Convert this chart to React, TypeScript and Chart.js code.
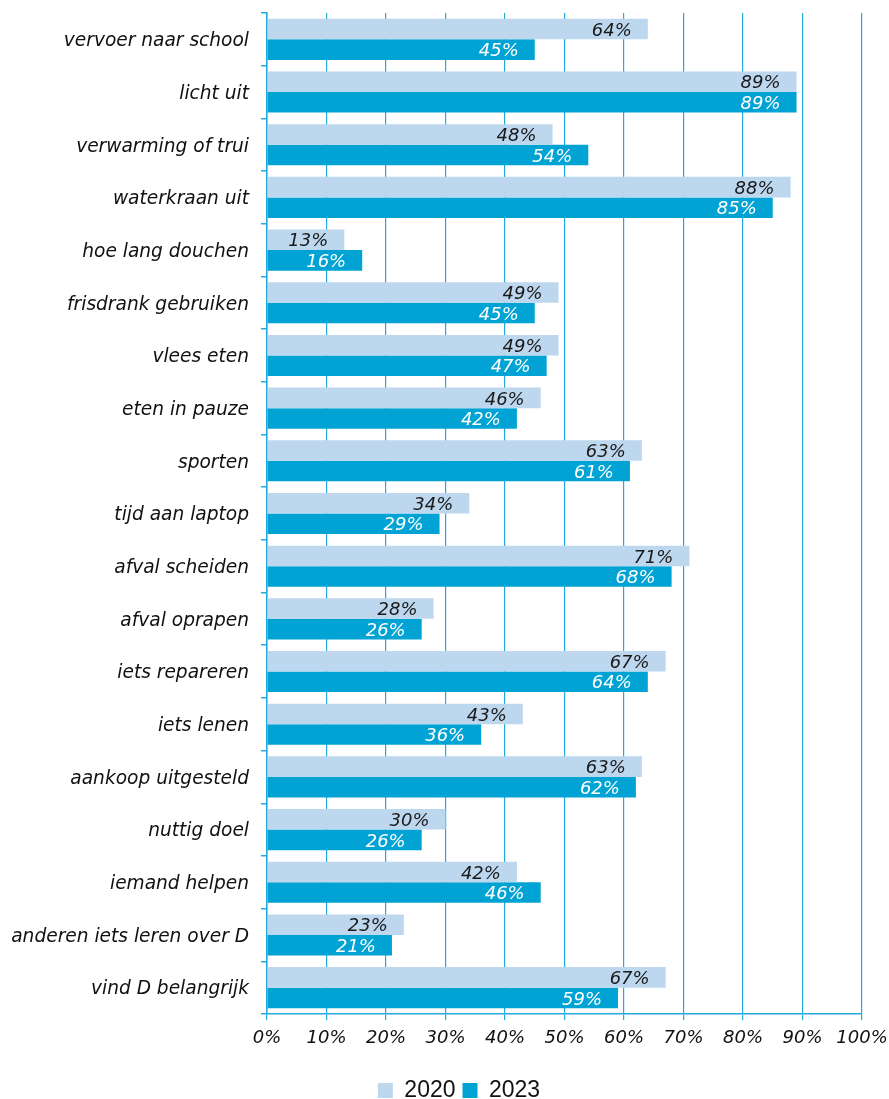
import React, { useEffect, useRef } from "react";
import { Chart, registerables } from "chart.js";

Chart.register(...registerables);

const categories = [
  "vervoer naar school",
  "licht uit",
  "verwarming of trui",
  "waterkraan uit",
  "hoe lang douchen",
  "frisdrank gebruiken",
  "vlees eten",
  "eten in pauze",
  "sporten",
  "tijd aan laptop",
  "afval scheiden",
  "afval oprapen",
  "iets repareren",
  "iets lenen",
  "aankoop uitgesteld",
  "nuttig doel",
  "iemand helpen",
  "anderen iets leren over D",
  "vind D belangrijk",
];

const values2020 = [64, 89, 48, 88, 13, 49, 49, 46, 63, 34, 71, 28, 67, 43, 63, 30, 42, 23, 67];
const values2023 = [45, 89, 54, 85, 16, 45, 47, 42, 61, 29, 68, 26, 64, 36, 62, 26, 46, 21, 59];

const seriesNames = ["2020", "2023"];
const seriesColors = ["#bdd7ee", "#00a3d3"];
const labelColors = ["#1a1a1a", "#ffffff"];

const xTicks = [0, 10, 20, 30, 40, 50, 60, 70, 80, 90, 100];

const AXIS_COLOR = "#22a9de";
const FONT = "'DejaVu Sans', Verdana, sans-serif";
const PLOT_TOP = 13;
const PLOT_BOTTOM = 1014;
const PLOT_LEFT = 267;
const BOTTOM_SHIFT = 13;
const LEGEND_SHIFT_X = 28;

const valueLabelPlugin = {
  id: "valueLabels",
  afterLayout(chart: any) {
    if (chart.legend) {
      chart.legend.left += LEGEND_SHIFT_X;
      chart.legend.right += LEGEND_SHIFT_X;
    }
  },
  afterDatasetsDraw(chart: any) {
    const ctx = chart.ctx;
    ctx.save();
    ctx.font = `italic 18px ${FONT}`;
    ctx.textAlign = "right";
    ctx.textBaseline = "middle";
    chart.data.datasets.forEach((ds: any, di: number) => {
      const meta = chart.getDatasetMeta(di);
      ctx.fillStyle = labelColors[di];
      meta.data.forEach((bar: any, i: number) => {
        ctx.fillText(`${ds.data[i]}%`, bar.x - 16, bar.y + 2);
      });
    });
    ctx.restore();
  },
};

export default function App() {
  const canvasRef = useRef<HTMLCanvasElement>(null);

  useEffect(() => {
    if (!canvasRef.current) return;
    const chart = new Chart(canvasRef.current, {
      type: "bar",
      data: {
        labels: categories,
        datasets: [
          {
            label: seriesNames[0],
            data: values2020,
            backgroundColor: seriesColors[0],
            borderWidth: 0,
            categoryPercentage: 0.78,
            barPercentage: 1.0,
          },
          {
            label: seriesNames[1],
            data: values2023,
            backgroundColor: seriesColors[1],
            borderWidth: 0,
            categoryPercentage: 0.78,
            barPercentage: 1.0,
          },
        ],
      },
      options: {
        indexAxis: "y",
        animation: false,
        responsive: false,
        maintainAspectRatio: false,
        layout: { padding: { top: PLOT_TOP, right: 27, left: 0, bottom: -BOTTOM_SHIFT } },
        plugins: {
          legend: {
            position: "bottom",
            labels: {
              boxWidth: 15,
              boxHeight: 15,
              padding: 7,
              color: "#111",
              font: { family: "'Liberation Sans', Arial, sans-serif", size: 23 },
            },
          },
          tooltip: { enabled: false },
        },
        scales: {
          x: {
            min: 0,
            max: 100,
            afterBuildTicks(scale: any) {
              scale.ticks = xTicks.map((v) => ({ value: v }));
            },
            afterFit(scale: any) {
              const lh = scale.chart.legend ? scale.chart.legend.height : 0;
              scale.height = scale.chart.height + BOTTOM_SHIFT - PLOT_BOTTOM - lh;
              scale.paddingLeft = 0;
              scale.paddingRight = 0;
            },
            ticks: {
              padding: 8,
              color: "#111",
              font: { family: FONT, size: 18, style: "italic" },
              callback: (v: any) => `${v}%`,
            },
            grid: {
              color: AXIS_COLOR,
              lineWidth: 1.2,
              tickLength: 6,
            },
            border: { color: AXIS_COLOR, width: 1.5 },
          },
          y: {
            offset: true,
            afterFit(scale: any) {
              scale.width = PLOT_LEFT;
              scale.paddingTop = 0;
              scale.paddingBottom = 0;
            },
            ticks: {
              padding: 12,
              labelOffset: 2,
              color: "#111",
              font: { family: FONT, size: 18.6, style: "italic" },
            },
            grid: {
              offset: true,
              drawOnChartArea: false,
              color: AXIS_COLOR,
              lineWidth: 1.5,
              tickLength: 6,
            },
            border: { color: AXIS_COLOR, width: 1.5 },
          },
        },
      },
      plugins: [valueLabelPlugin],
    } as any);
    return () => chart.destroy();
  }, []);

  return (
    <div style={{ position: "absolute", left: 0, top: 0, width: 889, height: 1099, background: "#fff", overflow: "hidden" }}>
      <canvas ref={canvasRef} width={889} height={1099} style={{ width: 889, height: 1099, display: "block" }} />
    </div>
  );
}
